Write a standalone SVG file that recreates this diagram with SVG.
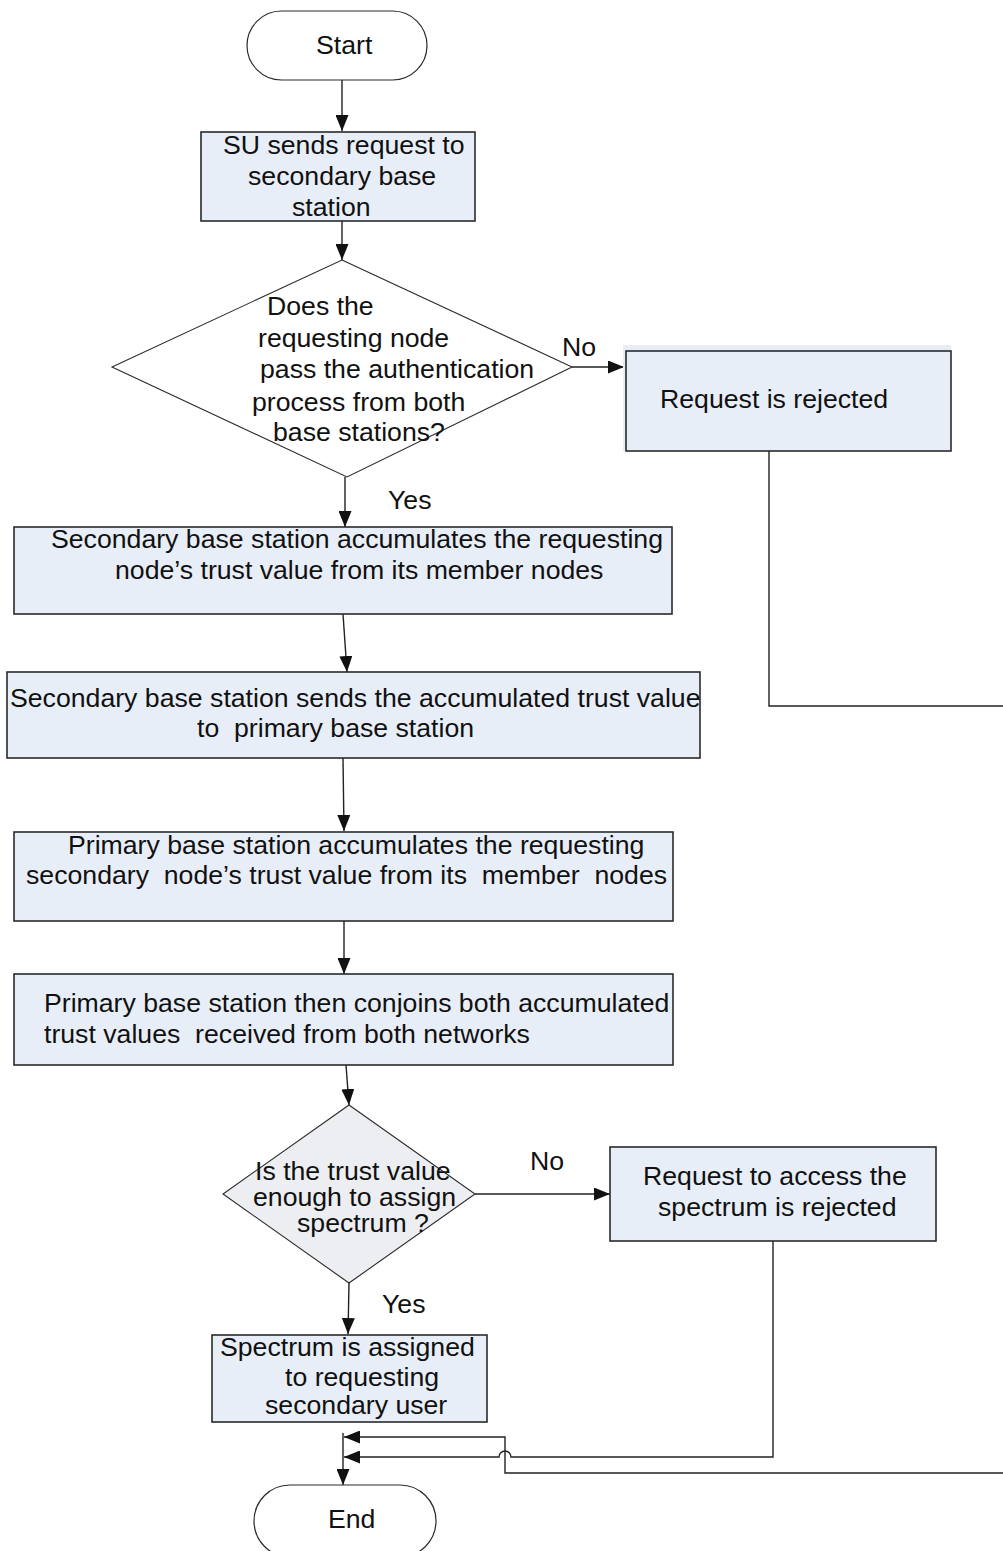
<svg xmlns="http://www.w3.org/2000/svg" width="1003" height="1551" viewBox="0 0 1003 1551">
  <style>
    .t { font-family: "Liberation Sans", Arial, sans-serif; font-size: 26.67px; fill: #111; white-space: pre; }
    .box { fill: #e8eef7; stroke: #2a2a2a; stroke-width: 1.6; }
    .term { fill: #ffffff; stroke: #2a2a2a; stroke-width: 1.2; }
    .dec { stroke: #2a2a2a; stroke-width: 1.1; }
    .conn { fill: none; stroke: #222; stroke-width: 1.4; }
  </style>
  <defs>
    <marker id="arrow" markerUnits="userSpaceOnUse" markerWidth="17" markerHeight="13" refX="16" refY="6.5" orient="auto">
      <path d="M0,0 L16,6.5 L0,13 z" fill="#111"/>
    </marker>
  </defs>

  <rect width="1003" height="1551" fill="#ffffff"/>

  <!-- connectors -->
  <g id="connectors">
    <line class="conn" x1="342" y1="80" x2="342" y2="131" marker-end="url(#arrow)"/>
    <line class="conn" x1="342" y1="221" x2="342" y2="260" marker-end="url(#arrow)"/>
    <line class="conn" x1="572" y1="367" x2="624" y2="367" marker-end="url(#arrow)"/>
    <line class="conn" x1="345" y1="477" x2="345" y2="527" marker-end="url(#arrow)"/>
    <line class="conn" x1="343" y1="614" x2="347" y2="672" marker-end="url(#arrow)"/>
    <line class="conn" x1="343" y1="758" x2="344" y2="831" marker-end="url(#arrow)"/>
    <line class="conn" x1="344" y1="920" x2="344" y2="974" marker-end="url(#arrow)"/>
    <line class="conn" x1="346" y1="1065" x2="349" y2="1105" marker-end="url(#arrow)"/>
    <line class="conn" x1="475" y1="1194" x2="610" y2="1194" marker-end="url(#arrow)"/>
    <line class="conn" x1="349" y1="1283" x2="348" y2="1334" marker-end="url(#arrow)"/>
    <!-- rejection after authentication, routed round the right-hand side -->
    <path class="conn" d="M769 451 V706 H1012 V1473 H505 V1437 H344" marker-end="url(#arrow)"/>
    <!-- rejection after trust check, hopping over the crossing line -->
    <path class="conn" d="M773 1241 V1457 H511 A6 6 0 0 0 499 1457 H344" marker-end="url(#arrow)"/>
    <line class="conn" x1="343" y1="1433" x2="343" y2="1485" marker-end="url(#arrow)"/>
  </g>

  <!-- edge labels -->
  <g id="labels">
    <text class="t" x="562" y="356">No</text>
    <text class="t" x="388" y="509">Yes</text>
    <text class="t" x="530" y="1170">No</text>
    <text class="t" x="382" y="1313">Yes</text>
  </g>

  <g id="start">
    <rect class="term" x="247" y="11" width="180" height="69" rx="34.5" ry="34.5"/>
    <text class="t" x="316" y="54">Start</text>
  </g>

  <g id="su-request">
    <rect class="box" x="201" y="132" width="274" height="89"/>
    <text class="t" x="223" y="154">SU sends request to</text>
    <text class="t" x="248" y="185">secondary base</text>
    <text class="t" x="292" y="216">station</text>
  </g>

  <g id="auth-check">
    <polygon class="dec" fill="#ffffff" points="342,260 572,367 347,477 112,367"/>
    <text class="t" x="267" y="315">Does the</text>
    <text class="t" x="258" y="347">requesting node</text>
    <text class="t" x="260" y="378">pass the authentication</text>
    <text class="t" x="252" y="411">process from both</text>
    <text class="t" x="273" y="441">base stations?</text>
  </g>

  <g id="request-rejected">
    <rect x="623" y="345" width="328" height="106" fill="#e8eef7"/>
    <rect x="626" y="351" width="325" height="100" fill="none" stroke="#2a2a2a" stroke-width="1.6"/>
    <text class="t" x="660" y="408">Request is rejected</text>
  </g>

  <g id="secondary-accumulates">
    <rect class="box" x="14" y="527" width="658" height="87"/>
    <text class="t" x="51" y="548">Secondary base station accumulates the requesting</text>
    <text class="t" x="115" y="579">node’s trust value from its member nodes</text>
  </g>

  <g id="secondary-sends">
    <rect class="box" x="7" y="672" width="693" height="86"/>
    <text class="t" x="10" y="707">Secondary base station sends the accumulated trust value</text>
    <text class="t" x="197" y="737">to  primary base station</text>
  </g>

  <g id="primary-accumulates">
    <rect class="box" x="14" y="832" width="659" height="89"/>
    <text class="t" x="68" y="854">Primary base station accumulates the requesting</text>
    <text class="t" x="26" y="884">secondary  node’s trust value from its  member  nodes</text>
  </g>

  <g id="primary-conjoins">
    <rect class="box" x="14" y="974" width="659" height="91"/>
    <text class="t" x="44" y="1012">Primary base station then conjoins both accumulated</text>
    <text class="t" x="44" y="1043">trust values  received from both networks</text>
  </g>

  <g id="trust-check">
    <polygon class="dec" fill="#eceef1" points="349,1105 475,1194 349,1283 223,1194"/>
    <text class="t" x="255" y="1180">Is the trust value</text>
    <text class="t" x="253" y="1206">enough to assign</text>
    <text class="t" x="297" y="1232">spectrum ?</text>
  </g>

  <g id="access-rejected">
    <rect class="box" x="610" y="1147" width="326" height="94"/>
    <text class="t" x="643" y="1185">Request to access the</text>
    <text class="t" x="658" y="1216">spectrum is rejected</text>
  </g>

  <g id="spectrum-assigned">
    <rect class="box" x="212" y="1335" width="275" height="87"/>
    <text class="t" x="220" y="1356">Spectrum is assigned</text>
    <text class="t" x="285" y="1386">to requesting</text>
    <text class="t" x="265" y="1414">secondary user</text>
  </g>

  <g id="end">
    <rect class="term" x="254" y="1485" width="182" height="72" rx="36" ry="36"/>
    <text class="t" x="328" y="1528">End</text>
  </g>
</svg>
